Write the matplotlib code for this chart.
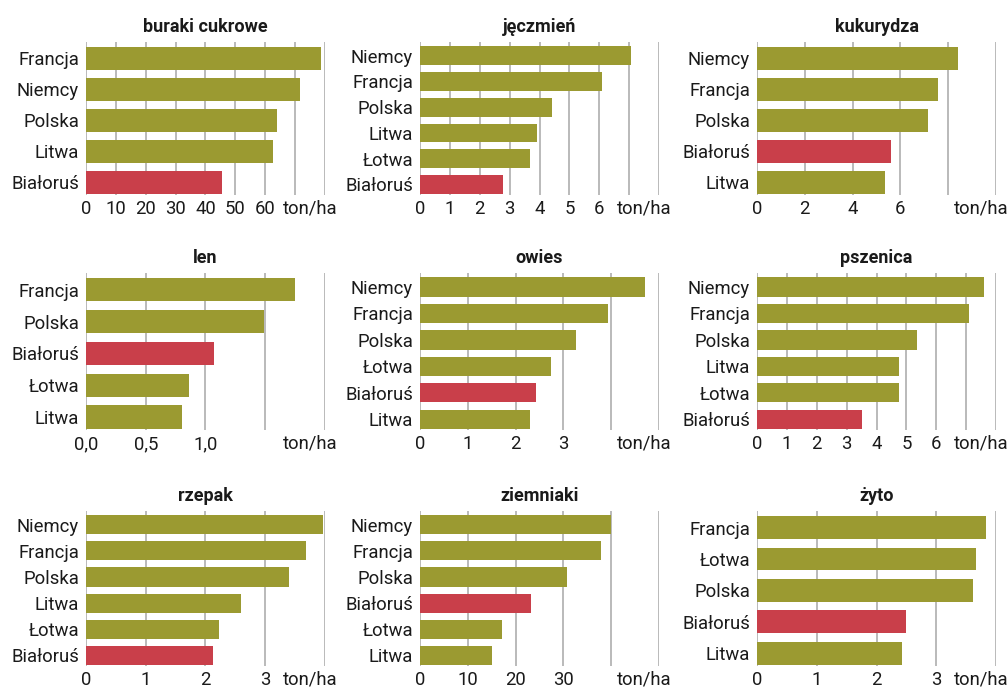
import matplotlib
matplotlib.use("Agg")
import matplotlib.pyplot as plt
from matplotlib.transforms import offset_copy
import numpy as np

plt.rcParams["font.family"] = ["Roboto", "DejaVu Sans"]

OLIVE = "#9b9a31"
RED = "#c93f4a"
GRID = "#b4b4b4"
TEXT = "#1a1a1a"

# plony (ton/ha), kolejność jak na wykresie (od góry)
buraki_kraje = ["Francja", "Niemcy", "Polska", "Litwa", "Białoruś"]
buraki_val = [78.8, 71.5, 64.0, 62.7, 45.4]

jeczmien_kraje = ["Niemcy", "Francja", "Polska", "Litwa", "Łotwa", "Białoruś"]
jeczmien_val = [7.07, 6.10, 4.43, 3.93, 3.67, 2.77]

kukurydza_kraje = ["Niemcy", "Francja", "Polska", "Białoruś", "Litwa"]
kukurydza_val = [8.39, 7.56, 7.14, 5.59, 5.34]

len_kraje = ["Francja", "Polska", "Białoruś", "Łotwa", "Litwa"]
len_val = [1.746, 1.486, 1.075, 0.866, 0.807]

owies_kraje = ["Niemcy", "Francja", "Polska", "Łotwa", "Białoruś", "Litwa"]
owies_val = [4.71, 3.94, 3.27, 2.75, 2.42, 2.31]

pszenica_kraje = ["Niemcy", "Francja", "Polska", "Litwa", "Łotwa", "Białoruś"]
pszenica_val = [7.59, 7.09, 5.35, 4.75, 4.75, 3.51]

rzepak_kraje = ["Niemcy", "Francja", "Polska", "Litwa", "Łotwa", "Białoruś"]
rzepak_val = [3.96, 3.69, 3.39, 2.59, 2.22, 2.13]

ziemniaki_kraje = ["Niemcy", "Francja", "Polska", "Białoruś", "Łotwa", "Litwa"]
ziemniaki_val = [40.0, 37.9, 30.8, 23.3, 17.1, 15.0]

zyto_kraje = ["Francja", "Łotwa", "Polska", "Białoruś", "Litwa"]
zyto_val = [3.84, 3.66, 3.61, 2.50, 2.42]

# tytuł, kraje, wartości, krok osi, max osi, ile etykiet pokazać, format
panels = [
    ("buraki cukrowe", buraki_kraje, buraki_val, 10, 80, 7, "{:.0f}"),
    ("jęczmień", jeczmien_kraje, jeczmien_val, 1, 8, 7, "{:.0f}"),
    ("kukurydza", kukurydza_kraje, kukurydza_val, 2, 10, 4, "{:.0f}"),
    ("len", len_kraje, len_val, 0.5, 2.0, 3, "{:.1f}"),
    ("owies", owies_kraje, owies_val, 1, 5, 4, "{:.0f}"),
    ("pszenica", pszenica_kraje, pszenica_val, 1, 8, 7, "{:.0f}"),
    ("rzepak", rzepak_kraje, rzepak_val, 1, 4, 4, "{:.0f}"),
    ("ziemniaki", ziemniaki_kraje, ziemniaki_val, 10, 50, 4, "{:.0f}"),
    ("żyto", zyto_kraje, zyto_val, 1, 4, 4, "{:.0f}"),
]

W, H = 1008, 688
fig = plt.figure(figsize=(W / 100, H / 100), dpi=100)

col_left = [86, 420, 757]
col_width = 239
row_top = [42, 273, 511]
row_height = [153, 157, 155]
XPAD = 3.5
FS = 13.3

for i, (title, kraje, vals, step, vmax, nshow, fmt) in enumerate(panels):
    r, c = divmod(i, 3)
    left = col_left[c] / W
    bottom = 1 - (row_top[r] + row_height[r]) / H
    ax = fig.add_axes([left, bottom, col_width / W, row_height[r] / H])

    n = len(kraje)
    y = np.arange(n)
    colors = [RED if k == "Białoruś" else OLIVE for k in kraje]
    ax.barh(y, vals, height=0.73, color=colors, zorder=2)

    ticks = np.arange(0, vmax + step / 2, step)
    labels = [fmt.format(t).replace(".", ",") if j < nshow else ""
              for j, t in enumerate(ticks)]
    ax.set_xticks(ticks)
    ax.set_xticklabels(labels)
    ax.set_xlim(0, vmax)
    ax.set_ylim(n - 0.59, -0.53)
    ax.set_yticks(y)
    ax.set_yticklabels(kraje)

    for t in ticks:
        ax.axvline(t, color=GRID, lw=1.3, zorder=1)
    for s in ax.spines.values():
        s.set_visible(False)
    ax.tick_params(length=0, labelsize=FS, colors=TEXT, pad=5)
    ax.tick_params(axis="x", pad=XPAD)

    ax.text(1.0, 0, "ton/ha", transform=offset_copy(
        ax.transAxes, fig=fig, x=9, y=-XPAD, units="points"),
        ha="right", va="top", fontsize=FS, color=TEXT)

    ax.set_title(title, fontsize=13, fontweight="bold", color=TEXT, pad=7)

fig.savefig("out.png", dpi=100)
